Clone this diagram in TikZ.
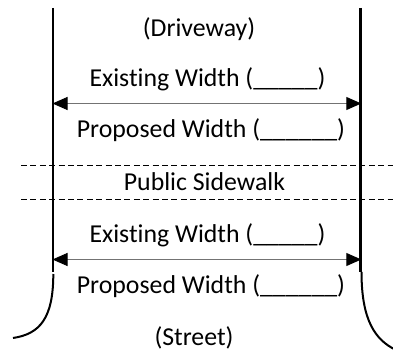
\documentclass[tikz,border=0pt]{standalone}
\usepackage{fontspec}
\setmainfont[Ligatures=NoCommon]{Carlito}
\usetikzlibrary{arrows.meta}
\tikzset{
  wall/.style={line width=2.3pt, line cap=butt},
  sidewalk/.style={line width=0.8pt, dash pattern=on 6pt off 3.4pt},
  measure/.style={line width=0.9pt, draw=black!55, {Triangle[length=15pt,width=13pt,fill=black,color=black]}-{Triangle[length=15pt,width=13pt,fill=black,color=black]}, shorten <=0pt, shorten >=0pt},
  lbl/.style={inner sep=0pt, anchor=base, font=\fontsize{25.8}{30}\selectfont}
}
\begin{document}
\begin{tikzpicture}[x=1pt,y=-1pt]
\useasboundingbox (0,0) rectangle (393,352);
% walls
\draw[wall] (53.3,8) -- (53.3,272.5);
\draw[wall] (360.5,8) -- (360.5,272.5);
% curb curves
\draw[wall, line width=2pt] (53.3,274) .. controls (53.3,318) and (40,334) .. (13,338);
\draw[wall, line width=2pt] (361.5,272) .. controls (361.5,320) and (375,340) .. (396,350);
% sidewalk dashed lines
\coordinate (d1a) at (21,165);
\coordinate (d1b) at (393,165);
\coordinate (d2a) at (21,199);
\coordinate (d2b) at (393,199);
\draw[sidewalk] (d1a) -- (d1b);
\draw[sidewalk] (d2a) -- (d2b);
% measure arrows
\coordinate (a1l) at (52.5,103.5);
\coordinate (a1r) at (361.3,103.5);
\coordinate (a2l) at (52.5,259.5);
\coordinate (a2r) at (361.3,259.5);
\draw[measure] (a1l) -- (a1r);
\draw[measure] (a2l) -- (a2r);
% labels
\node[lbl] (drive) at (199,36.5) {(Driveway)};
\node[lbl] (ex1) at (207.5,86.8) {Existing Width (\_\_\_\_\_)};
\node[lbl] (pr1) at (211,137.5) {Proposed Width (\_\_\_\_\_\_)};
\node[lbl] (pub) at (204.5,190.3) {Public Sidewalk};
\node[lbl] (ex2) at (207.5,242.5) {Existing Width (\_\_\_\_\_)};
\node[lbl] (pr2) at (211,293.5) {Proposed Width (\_\_\_\_\_\_)};
\node[lbl] (street) at (194,345) {(Street)};
\end{tikzpicture}
\end{document}
